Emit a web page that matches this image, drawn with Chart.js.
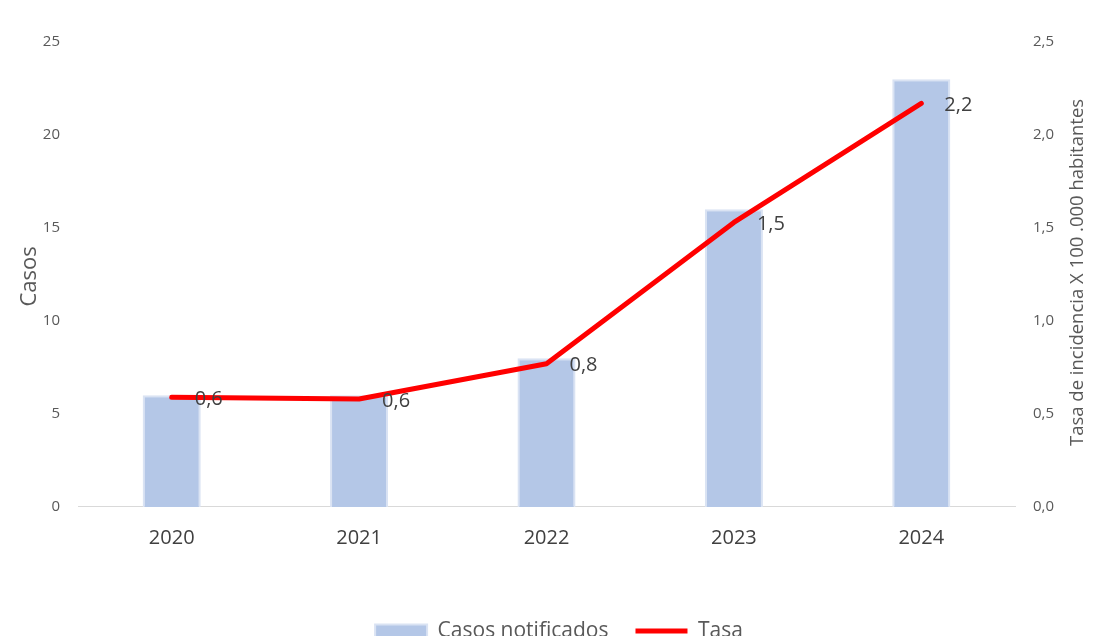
<!DOCTYPE html>
<html>
<head>
<meta charset="utf-8">
<script src="https://cdn.jsdelivr.net/npm/chart.js@4.4.1/dist/chart.umd.min.js"></script>
<style>
  html, body { margin: 0; padding: 0; background: #ffffff; }
  #wrap { width: 1093px; height: 636px; position: relative; }
</style>
</head>
<body>
<div id="wrap"><canvas id="c" width="1093" height="636"></canvas></div>
<script>
const categories = ['2020', '2021', '2022', '2023', '2024'];
const casos = [6, 6, 8, 16, 23];
const tasa = [0.59, 0.58, 0.77, 1.53, 2.17];
const leftTicks = [0, 5, 10, 15, 20, 25];
const rightTicks = [0, 0.5, 1.0, 1.5, 2.0, 2.5];
const leftTitle = 'Casos';
const rightTitle = 'Tasa de incidencia X 100 .000 habitantes';

const FONT = "'Open Sans', 'Noto Sans', sans-serif";
const fmt1 = v => v.toFixed(1).replace('.', ',');
const PAD_L = 25, PAD_R = 0;

function drawRotated(ctx, text, x, y, size) {
  ctx.save();
  ctx.translate(x, y);
  ctx.rotate(-Math.PI / 2);
  ctx.font = size + 'px ' + FONT;
  ctx.fillStyle = '#595959';
  ctx.textAlign = 'center';
  ctx.textBaseline = 'middle';
  ctx.fillText(text, 0, 0);
  ctx.restore();
}

const labelPlugin = {
  id: 'lineLabels',
  afterDatasetsDraw(chart) {
    const meta = chart.getDatasetMeta(1);
    const ctx = chart.ctx;
    ctx.save();
    ctx.font = '20px ' + FONT;
    ctx.fillStyle = '#404040';
    ctx.textAlign = 'left';
    ctx.textBaseline = 'middle';
    meta.data.forEach((pt, i) => {
      ctx.fillText(fmt1(tasa[i]), pt.x + 23, pt.y + 2);
    });
    ctx.restore();
  },
  afterDraw(chart) {
    const ca = chart.chartArea;
    const midY = (ca.top + ca.bottom) / 2;
    drawRotated(chart.ctx, leftTitle, 30, midY + 2, 22);
    drawRotated(chart.ctx, rightTitle, 1078, midY - 2, 18.5);
  }
};

new Chart(document.getElementById('c'), {
  data: {
    labels: categories,
    datasets: [
      {
        type: 'bar',
        label: 'Casos notificados',
        data: casos,
        yAxisID: 'y',
        backgroundColor: '#b4c7e7',
        borderColor: '#dae3f3',
        borderWidth: 2,
        categoryPercentage: 1.0,
        barPercentage: 0.31,
        pointStyle: 'rect',
        order: 2
      },
      {
        type: 'line',
        label: 'Tasa',
        data: tasa,
        yAxisID: 'y1',
        borderColor: '#ff0000',
        backgroundColor: '#ff0000',
        borderWidth: 5,
        borderCapStyle: 'round',
        borderJoinStyle: 'round',
        pointRadius: 0,
        pointHoverRadius: 0,
        pointStyle: 'line',
        tension: 0,
        order: 1
      }
    ]
  },
  options: {
    responsive: false,
    animation: false,
    devicePixelRatio: 1,
    layout: { padding: { top: 42, left: PAD_L, right: PAD_R, bottom: -15.5 } },
    plugins: {
      tooltip: { enabled: false },
      legend: {
        position: 'bottom',
        labels: {
          usePointStyle: true,
          pointStyleWidth: 52,
          boxHeight: 13,
          color: '#595959',
          font: { family: FONT, size: 21 },
          padding: 27,
          sort: (a, b) => a.datasetIndex - b.datasetIndex
        }
      }
    },
    scales: {
      x: {
        grid: { display: false, drawTicks: false },
        border: { display: true, color: '#d9d9d9', width: 1 },
        ticks: { color: '#404040', font: { family: FONT, size: 20 }, padding: 19 },
        title: { display: true, text: ' ', font: { family: FONT, size: 16 }, padding: { top: 5.4, bottom: 0 } }
      },
      y: {
        position: 'left',
        min: leftTicks[0], max: leftTicks[leftTicks.length - 1],
        afterFit: s => { s.width = 78 - PAD_L; },
        grid: { display: false, drawTicks: false },
        border: { display: false },
        ticks: { stepSize: leftTicks[1] - leftTicks[0], color: '#595959', font: { family: FONT, size: 15 }, padding: 18 }
      },
      y1: {
        position: 'right',
        min: rightTicks[0], max: rightTicks[rightTicks.length - 1],
        afterFit: s => { s.width = 78 - PAD_R; },
        grid: { display: false, drawTicks: false },
        border: { display: false },
        ticks: { stepSize: rightTicks[1] - rightTicks[0], color: '#595959', font: { family: FONT, size: 15 }, padding: 18, callback: v => fmt1(v) }
      }
    }
  },
  plugins: [labelPlugin]
});
</script>
</body>
</html>
